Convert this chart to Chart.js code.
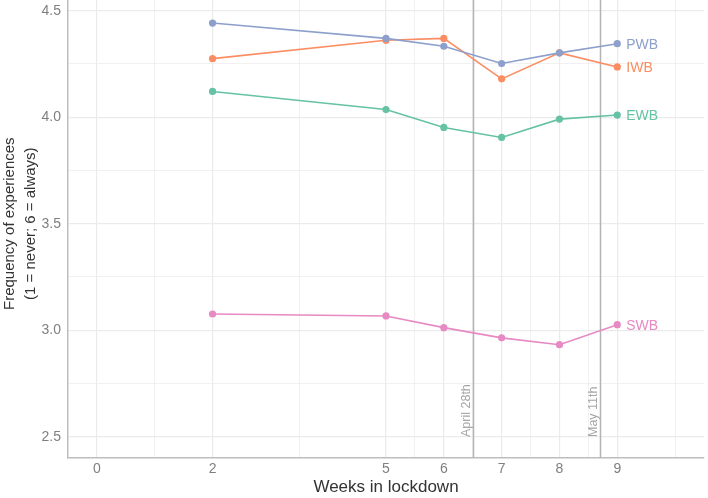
<!DOCTYPE html>
<html>
<head>
<meta charset="utf-8">
<script src="https://cdn.jsdelivr.net/npm/chart.js@4/dist/chart.umd.min.js"></script>
<style>
  html, body { margin: 0; padding: 0; background: #fff; overflow: hidden; }
  #cadre { width: 708px; height: 498px; overflow: hidden; position: relative; }
  /* le panneau du graphique commence au-dessus de l'image (haut rogné) */
  #wrap { position: absolute; left: 0; top: -26px; width: 708px; height: 524px; }
</style>
</head>
<body>
<div id="cadre"><div id="wrap"><canvas id="graphique"></canvas></div></div>
<script>
// Données
const weeks = [2, 5, 6, 7, 8, 9];
const pwb = [4.442, 4.370, 4.333, 4.252, 4.302, 4.345];
const iwb = [4.275, 4.361, 4.370, 4.180, 4.302, 4.236];
const ewb = [4.121, 4.036, 3.952, 3.905, 3.991, 4.010];
const swb = [3.076, 3.067, 3.012, 2.964, 2.932, 3.026];

const seriesNames = ["PWB", "IWB", "EWB", "SWB"];
const seriesColors = ["#8da0cb", "#fc8d62", "#66c2a5", "#e78ac3"];

const xMajorTicks = [0, 2, 5, 6, 7, 8, 9];
const xMinorTicks = [1, 3.5, 5.5, 6.5, 7.5, 8.5, 10];
const yMajorTicks = [2.5, 3.0, 3.5, 4.0, 4.5];
const yMinorTicks = [2.75, 3.25, 3.75, 4.25];

const eventWeeks = [6.5, 8.7];
const eventLabels = ["April 28th", "May 11th"];

const FONT = "'Liberation Sans', Arial, sans-serif";

const allSeries = [pwb, iwb, ewb, swb];
const datasets = allSeries.map((vals, i) => ({
  label: seriesNames[i],
  data: weeks.map((w, j) => ({ x: w, y: vals[j] })),
  borderColor: seriesColors[i],
  backgroundColor: seriesColors[i],
  borderWidth: 1.6,
  pointRadius: 3.6,
  pointBorderWidth: 0,
  tension: 0
}));

// Lignes verticales + étiquettes de fin de série
const annotations = {
  id: "annotations",
  beforeDatasetsDraw(chart) {
    const ctx = chart.ctx;
    const xs = chart.scales.x;
    const area = chart.chartArea;
    ctx.save();
    for (let i = 0; i < eventWeeks.length; i++) {
      const px = Math.round(xs.getPixelForValue(eventWeeks[i])) + 0.5;
      ctx.strokeStyle = "#b3b3b3";
      ctx.lineWidth = 1.5;
      ctx.beginPath();
      ctx.moveTo(px, area.top);
      ctx.lineTo(px, area.bottom);
      ctx.stroke();
      ctx.save();
      ctx.translate(px - 7, area.bottom - 21);
      ctx.rotate(-Math.PI / 2);
      ctx.fillStyle = "#a6a6a6";
      ctx.font = "12.5px " + FONT;
      ctx.textAlign = "left";
      ctx.textBaseline = "middle";
      ctx.fillText(eventLabels[i], 0, 0);
      ctx.restore();
    }
    ctx.restore();
  },
  afterDatasetsDraw(chart) {
    const ctx = chart.ctx;
    ctx.save();
    ctx.font = "14px " + FONT;
    ctx.textAlign = "left";
    ctx.textBaseline = "middle";
    chart.data.datasets.forEach((ds, i) => {
      const pts = chart.getDatasetMeta(i).data;
      const last = pts[pts.length - 1];
      ctx.fillStyle = seriesColors[i];
      ctx.fillText(seriesNames[i], last.x + 9, last.y + 1);
    });
    ctx.restore();
  }
};

const config = {
  type: "line",
  data: { datasets: datasets },
  options: {
    responsive: true,
    maintainAspectRatio: false,
    animation: false,
    layout: { padding: { top: 0, right: 2, left: 0, bottom: 0 } },
    plugins: { legend: { display: false }, tooltip: { enabled: false } },
    scales: {
      x: {
        type: "linear",
        min: -0.5,
        max: 10.5,
        afterBuildTicks(scale) {
          scale.ticks = xMajorTicks.concat(xMinorTicks).sort((a, b) => a - b).map(v => ({ value: v }));
        },
        afterFit(scale) { scale.height = 40; },
        ticks: {
          autoSkip: false,
          maxRotation: 0,
          padding: 3,
          color: "#7f7f7f",
          font: { family: FONT, size: 14 },
          callback: v => xMajorTicks.includes(v) ? String(v) : ""
        },
        grid: {
          drawTicks: false,
          color: "#ebebeb",
          lineWidth: c => (c.tick && xMajorTicks.includes(c.tick.value)) ? 1.2 : 0.7
        },
        border: { display: true, color: "#bdbdbd", width: 1.5 },
        title: {
          display: true,
          text: "Weeks in lockdown",
          color: "#333333",
          font: { family: FONT, size: 17 },
          padding: { top: 0, bottom: 0 }
        }
      },
      y: {
        min: 2.4,
        max: 4.6,
        afterBuildTicks(scale) {
          scale.ticks = yMajorTicks.concat(yMinorTicks).sort((a, b) => a - b).map(v => ({ value: v }));
        },
        afterFit(scale) { scale.width = 68; },
        ticks: {
          autoSkip: false,
          padding: 7,
          color: "#7f7f7f",
          font: { family: FONT, size: 14 },
          callback: v => yMajorTicks.includes(v) ? v.toFixed(1) : ""
        },
        grid: {
          drawTicks: false,
          color: "#ebebeb",
          lineWidth: c => (c.tick && yMajorTicks.includes(c.tick.value)) ? 1.2 : 0.7
        },
        border: { display: true, color: "#bdbdbd", width: 1.5 },
        title: {
          display: true,
          text: ["Frequency of experiences", "(1 = never; 6 = always)"],
          color: "#333333",
          font: { family: FONT, size: 15, lineHeight: 1.35 },
          padding: { top: 0, bottom: 0 }
        }
      }
    }
  },
  plugins: [annotations]
};

new Chart(document.querySelector("#graphique"), config);
</script>
</body>
</html>
